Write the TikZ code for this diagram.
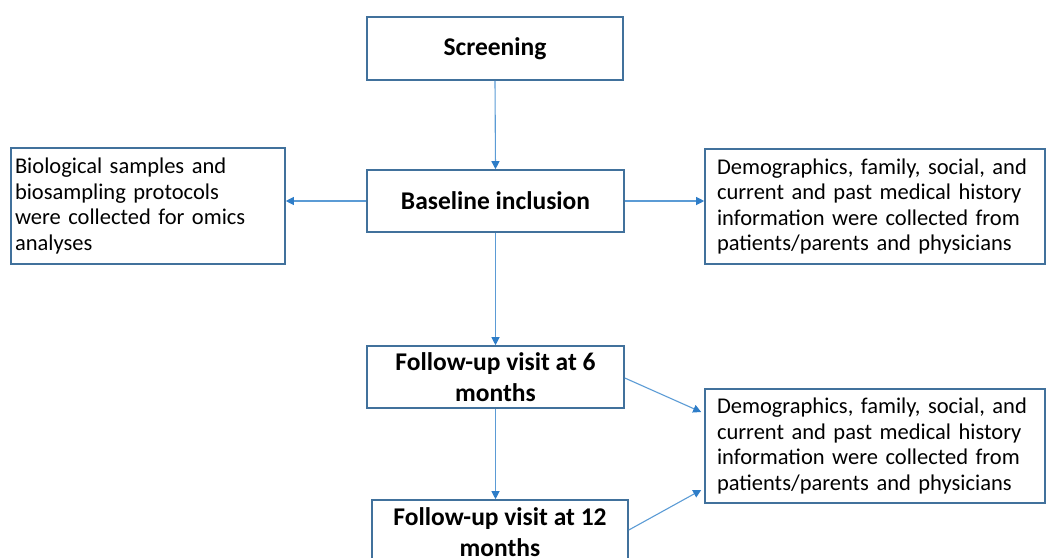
\documentclass[tikz,border=0pt]{standalone}
\usepackage{fontspec}
\setmainfont{Carlito}
\usetikzlibrary{arrows.meta}
\definecolor{boxc}{RGB}{65,113,156}
\definecolor{arrc}{RGB}{91,155,213}
\definecolor{tipc}{RGB}{46,125,200}
\begin{document}
\begin{tikzpicture}[x=1pt,y=-1pt,
  mainbox/.style={draw=boxc,line width=1.6pt,fill=white,inner sep=0pt,align=center,
    font=\fontsize{25.5}{31}\selectfont\bfseries},
  infobox/.style={draw=boxc,line width=1.6pt,fill=white,inner ysep=0pt,align=left,
    font=\fontsize{22.5}{25.6}\selectfont},
  conn/.style={draw=arrc,line width=1.1pt,-{Triangle[length=8pt,width=8pt,fill=tipc,color=tipc]}}]
\useasboundingbox (0,0) rectangle (1049,557);
\node[mainbox,minimum width=256pt,minimum height=63pt] (scr) at (495,48.5) {Screening};
\node[mainbox,minimum width=257pt,minimum height=62pt] (base) at (495.5,201) {Baseline inclusion};
\node[mainbox,minimum width=257pt,minimum height=62pt] (six) at (495.5,377) {Follow-up visit at 6\\months};
\node[mainbox,minimum width=256pt,minimum height=64pt] (twelve) at (500,532) {Follow-up visit at 12\\months};
\node[infobox,inner xsep=4pt,text width=266pt,minimum height=116pt] (bio) at (148,206)
  {Biological samples and\\biosampling protocols\\were collected for omics\\analyses};
\node[infobox,inner xsep=12pt,text width=316pt,minimum height=115pt] (demo1) at (875,206.5)
  {Demographics, family, social, and\\current and past medical history\\information were collected from\\patients/parents and physicians};
\node[infobox,inner xsep=12pt,text width=316pt,minimum height=114pt] (demo2) at (875,446)
  {Demographics, family, social, and\\current and past medical history\\information were collected from\\patients/parents and physicians};
\draw[conn] (scr.south) -- (base.north);
\draw[conn] (base.west) -- (base.west -| bio.east);
\draw[conn] (base.east) -- (base.east -| demo1.west);
\draw[conn] (base.south) -- (six.north);
\draw[conn] (six.south) -- (six.south |- twelve.north);
\draw[conn] ([yshift=-1pt]six.east) -- ([xshift=-3pt,yshift=34pt]demo2.west);
\draw[conn] ([yshift=2pt]twelve.east) -- ([xshift=-3pt,yshift=-44pt]demo2.west);
\end{tikzpicture}
\end{document}
